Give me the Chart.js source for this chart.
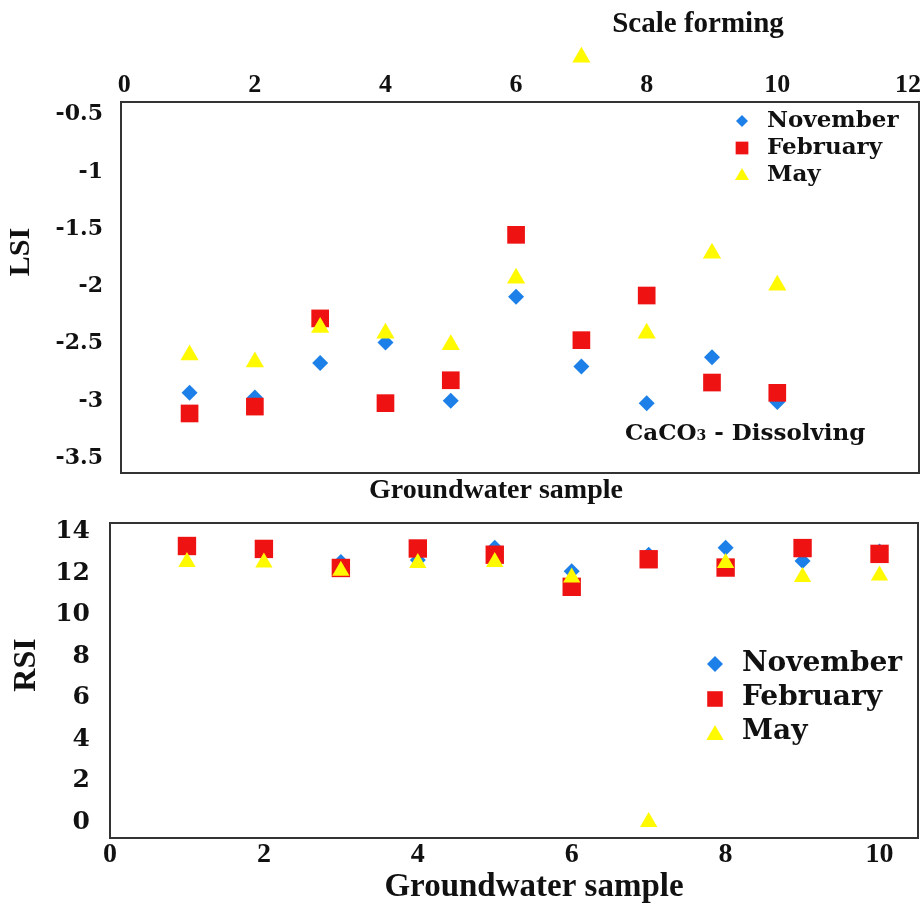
<!DOCTYPE html>
<html>
<head>
<meta charset="utf-8">
<title>LSI and RSI</title>
<script src="https://cdn.jsdelivr.net/npm/chart.js@4.4.1/dist/chart.umd.min.js"></script>
<style>
    body { margin: 0; background: #fff; }
    #top { position: absolute; left: 0; top: 0; width: 923px; height: 505px; }
    #bottom { position: absolute; left: 0; top: 505px; width: 923px; height: 399px; }
</style>
</head>
<body>
<div id="top"><canvas id="lsi"></canvas></div>
<div id="bottom"><canvas id="rsi"></canvas></div>
<script>
var samples = [1, 2, 3, 4, 5, 6, 7, 8, 9, 10];
var lsiNovember = [-2.93, -2.97, -2.67, -2.49, -3.00, -2.09, -2.70, -3.02, -2.62, -3.01];
var lsiFebruary = [-3.11, -3.05, -2.28, -3.02, -2.82, -1.55, -2.47, -2.08, -2.84, -2.93];
var lsiMay = [-2.60, -2.66, -2.36, -2.41, -2.51, -1.93, 0, -2.41, -1.71, -1.99];
var rsiNovember = [13.3, 13.15, 12.55, 12.65, 13.23, 12.1, 12.9, 13.23, 12.6, 13.05];
var rsiFebruary = [13.32, 13.18, 12.26, 13.2, 12.9, 11.35, 12.68, 12.28, 13.22, 12.94];
var rsiMay = [12.55, 12.52, 12.12, 12.5, 12.55, 11.8, 0, 12.5, 11.83, 11.9];
var lsiXTicks = [0, 2, 4, 6, 8, 10, 12];
var lsiYTicks = [-3.5, -3, -2.5, -2, -1.5, -1, -0.5];
var rsiXTicks = [0, 2, 4, 6, 8, 10];
var rsiYTicks = [0, 2, 4, 6, 8, 10, 12, 14];
var months = ["November", "February", "May"];

var BLUE = "rgb(28,128,232)";
var RED = "rgb(238,18,18)";
var YELLOW = "rgb(255,250,0)";
var INK = "#111";

function points(values) {
    return samples.map(function (s, i) {
        return { x: s, y: values[i] };
    });
}

function setTicks(list) {
    return function (scale) {
        scale.ticks = list.map(function (v) { return { value: v }; });
    };
}

// fixed axis size, no extra room for the end labels
function fixSize(w, h) {
    return function (scale) {
        if (w) scale.width = w;
        if (h) scale.height = h;
        scale.paddingLeft = 0;
        scale.paddingRight = 0;
        scale.paddingTop = 0;
        scale.paddingBottom = 0;
    };
}

function makeDatasets(nov, feb, may, r) {
    return [
        { label: months[0], data: points(nov), pointStyle: "rectRot", backgroundColor: BLUE, pointRadius: r[0], order: 3, clip: false },
        { label: months[1], data: points(feb), pointStyle: "rect", backgroundColor: RED, pointRadius: r[1], order: 2, clip: false },
        { label: months[2], data: points(may), pointStyle: "triangle", backgroundColor: YELLOW, pointRadius: r[2], order: 1, clip: false }
    ];
}

function drawLegend(chart, leg) {
    var ctx = chart.ctx;
    chart.data.datasets.forEach(function (ds, i) {
        var y = leg.y + i * leg.gap;
        ctx.save();
        ctx.fillStyle = ds.backgroundColor;
        Chart.helpers.drawPoint(ctx, { pointStyle: ds.pointStyle, radius: leg.sizes[i], rotation: 0, borderWidth: 0 }, leg.x, y + leg.shift[i]);
        ctx.fillStyle = INK;
        ctx.font = leg.font;
        ctx.textAlign = "left";
        ctx.textBaseline = "middle";
        ctx.fillText(ds.label, leg.textX, y);
        ctx.restore();
    });
}

function drawText(ctx, txt, x, y, font, rot) {
    ctx.save();
    ctx.translate(x, y);
    if (rot) ctx.rotate(rot);
    ctx.font = font;
    ctx.fillStyle = INK;
    ctx.textAlign = "center";
    ctx.textBaseline = "middle";
    ctx.fillText(txt, 0, 0);
    ctx.restore();
}

var boxPlugin = {
    id: "box",
    beforeDatasetsDraw: function (chart) {
        var a = chart.chartArea, ctx = chart.ctx;
        ctx.save();
        ctx.strokeStyle = "#333";
        ctx.lineWidth = 2;
        ctx.strokeRect(a.left, a.top, a.right - a.left, a.bottom - a.top);
        ctx.restore();
    }
};

// let the out-of-range point (May, sample 7) show above the frame
var openTop = {
    id: "openTop",
    beforeDatasetsDraw: function (chart) {
        chart._savedArea = chart.chartArea;
        chart.chartArea = Object.assign({}, chart.chartArea, { top: 0 });
    },
    afterDatasetsDraw: function (chart) {
        chart.chartArea = chart._savedArea;
    }
};

var lsiDecor = {
    id: "lsiDecor",
    afterDraw: function (chart) {
        var ctx = chart.ctx;
        drawLegend(chart, { x: 742, textX: 767, y: 121, gap: 27, sizes: [6, 9, 8], shift: [0, 0, 1], font: "bold 23px 'DejaVu Serif'" });
        drawText(ctx, "Scale forming", 698, 25, "bold 29px 'Liberation Serif'");
        drawText(ctx, "Groundwater sample", 496, 491, "bold 28px 'Liberation Serif'");
        drawText(ctx, "LSI", 21, 252, "bold 30px 'Liberation Serif'", -Math.PI / 2);
        // CaCO3 with a small 3
        ctx.save();
        ctx.fillStyle = INK;
        ctx.textBaseline = "alphabetic";
        ctx.textAlign = "left";
        var x = 625, base = 440;
        ctx.font = "bold 23px 'DejaVu Serif'";
        ctx.fillText("CaCO", x, base);
        x += ctx.measureText("CaCO").width;
        ctx.font = "bold 14px 'DejaVu Serif'";
        ctx.fillText("3", x, base);
        x += ctx.measureText("3").width;
        ctx.font = "bold 23px 'DejaVu Serif'";
        ctx.fillText(" - Dissolving", x, base);
        ctx.restore();
    }
};

var rsiDecor = {
    id: "rsiDecor",
    afterDraw: function (chart) {
        var ctx = chart.ctx;
        drawLegend(chart, { x: 715, textX: 742, y: 159, gap: 34, sizes: [8, 11, 10], shift: [0, 1, 3], font: "bold 28px 'DejaVu Serif'" });
        drawText(ctx, "RSI", 27, 160, "bold 32px 'Liberation Serif'", -Math.PI / 2);
        drawText(ctx, "Groundwater sample", 534, 382, "bold 33px 'Liberation Serif'");
    }
};

new Chart("lsi", {
    type: "scatter",
    data: { datasets: makeDatasets(lsiNovember, lsiFebruary, lsiMay, [8, 12.5, 10.5]) },
    options: {
        responsive: true,
        maintainAspectRatio: false,
        animation: false,
        layout: { autoPadding: false, padding: { left: 0, right: 4, top: 0, bottom: 32 } },
        plugins: { legend: { display: false }, tooltip: { enabled: false } },
        elements: { point: { borderWidth: 0 } },
        scales: {
            x: {
                type: "linear",
                position: "top",
                min: -0.05,
                max: 12.17,
                afterBuildTicks: setTicks(lsiXTicks),
                afterFit: fixSize(0, 102),
                grid: { display: false, drawTicks: false },
                border: { display: false },
                ticks: { padding: 1, color: INK, font: { family: "'Liberation Serif'", size: 26, weight: "bold" }, callback: function (v) { return String(v); } }
            },
            y: {
                min: -3.63,
                max: -0.39,
                afterBuildTicks: setTicks(lsiYTicks),
                afterFit: fixSize(121, 0),
                grid: { display: false, drawTicks: false },
                border: { display: false },
                ticks: { padding: 18, color: INK, font: { family: "'DejaVu Serif'", size: 22, weight: "bold" }, callback: function (v) { return String(v); } }
            }
        }
    },
    plugins: [boxPlugin, openTop, lsiDecor]
});

new Chart("rsi", {
    type: "scatter",
    data: { datasets: makeDatasets(rsiNovember, rsiFebruary, rsiMay, [8, 13, 10]) },
    options: {
        responsive: true,
        maintainAspectRatio: false,
        animation: false,
        layout: { autoPadding: false, padding: { left: 0, right: 5, top: 18, bottom: 0 } },
        plugins: { legend: { display: false }, tooltip: { enabled: false } },
        elements: { point: { borderWidth: 0 } },
        scales: {
            x: {
                type: "linear",
                position: "bottom",
                min: 0,
                max: 10.5,
                afterBuildTicks: setTicks(rsiXTicks),
                afterFit: fixSize(0, 66),
                grid: { display: false, drawTicks: false },
                border: { display: false },
                ticks: { padding: 0, color: INK, font: { family: "'Liberation Serif'", size: 28, weight: "bold" }, callback: function (v) { return String(v); } }
            },
            y: {
                min: -0.77,
                max: 14.43,
                afterBuildTicks: setTicks(rsiYTicks),
                afterFit: fixSize(110, 0),
                grid: { display: false, drawTicks: false },
                border: { display: false },
                ticks: { padding: 20, color: INK, font: { family: "'DejaVu Serif'", size: 25, weight: "bold" }, callback: function (v) { return String(v); } }
            }
        }
    },
    plugins: [boxPlugin, rsiDecor]
});
</script>
</body>
</html>
